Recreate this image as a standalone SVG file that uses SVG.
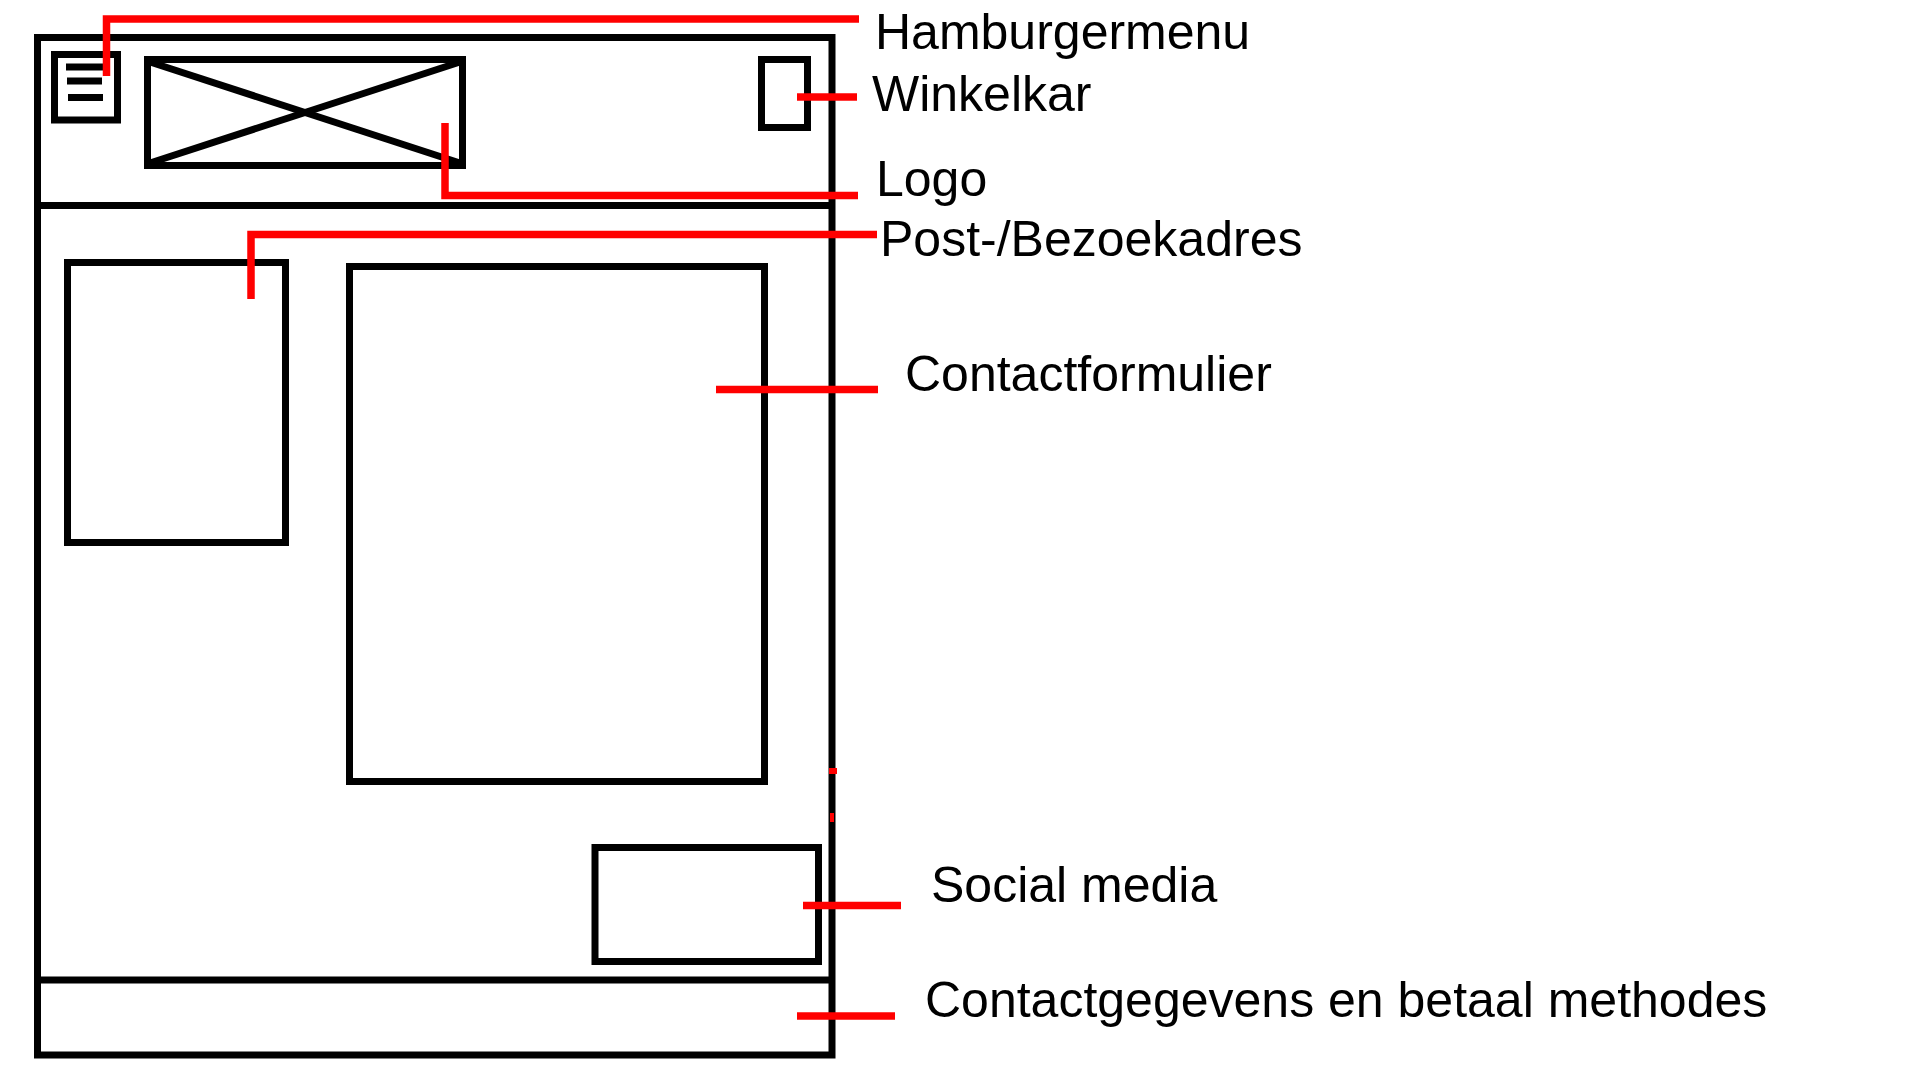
<svg xmlns="http://www.w3.org/2000/svg" width="1920" height="1080" viewBox="0 0 1920 1080">
<style>
.box{fill:none;stroke:#000;stroke-width:7}
.ln{stroke:#000;stroke-width:7;fill:none}
.red{fill:none;stroke:#ff0000;stroke-width:7.5;stroke-linejoin:miter}
.lbl{font-family:"Liberation Sans",Arial,sans-serif;font-size:50px;fill:#000}
</style>
<rect width="1920" height="1080" fill="#fff"/>
<g id="page">
<rect class="box" x="37.5" y="37.5" width="794.5" height="1017.5"/>
<line class="ln" x1="37.5" y1="205.5" x2="832" y2="205.5"/>
<line class="ln" x1="37.5" y1="980" x2="832" y2="980"/>
</g>
<g id="hamburger">
<rect class="box" x="54.5" y="54.5" width="63" height="65.5"/>
<line class="ln" x1="66" y1="67" x2="103" y2="67"/>
<line class="ln" x1="67" y1="81" x2="102" y2="81"/>
<line class="ln" x1="68" y1="97.5" x2="103" y2="97.5"/>
</g>
<g id="logo">
<rect class="box" x="147.5" y="59.5" width="315" height="106"/>
<line class="ln" x1="150" y1="62" x2="460" y2="163"/>
<line class="ln" x1="460" y1="62" x2="150" y2="163"/>
</g>
<g id="winkelkar">
<rect class="box" x="761.5" y="59.5" width="46" height="68"/>
</g>
<g id="adres">
<rect class="box" x="67.5" y="262.5" width="218" height="280"/>
</g>
<g id="contactformulier">
<rect class="box" x="349.5" y="266.5" width="415" height="515"/>
</g>
<g id="socialmedia">
<rect class="box" x="595" y="847.5" width="223.5" height="114"/>
</g>
<g id="connectors">
<polyline class="red" points="106.5,76 106.5,19 859,19"/>
<line class="red" x1="797" y1="97" x2="857" y2="97"/>
<polyline class="red" points="445,123 445,195.5 858,195.5"/>
<polyline class="red" points="251,299 251,234.5 877,234.5"/>
<line class="red" x1="716" y1="389.5" x2="878" y2="389.5"/>
<line class="red" x1="803" y1="905.5" x2="901" y2="905.5"/>
<line class="red" x1="797" y1="1016" x2="895" y2="1016"/>
<rect x="829" y="768" width="8" height="6" fill="#ff0000"/>
<rect x="830" y="813" width="4" height="9" fill="#ff0000"/>
</g>
<g id="labels">
<text class="lbl" x="875" y="49">Hamburgermenu</text>
<text class="lbl" x="872" y="111">Winkelkar</text>
<text class="lbl" x="876" y="196">Logo</text>
<text class="lbl" x="880" y="256">Post-/Bezoekadres</text>
<text class="lbl" x="905" y="391">Contactformulier</text>
<text class="lbl" x="931" y="902">Social media</text>
<text class="lbl" x="925" y="1017">Contactgegevens en betaal methodes</text>
</g>
</svg>
